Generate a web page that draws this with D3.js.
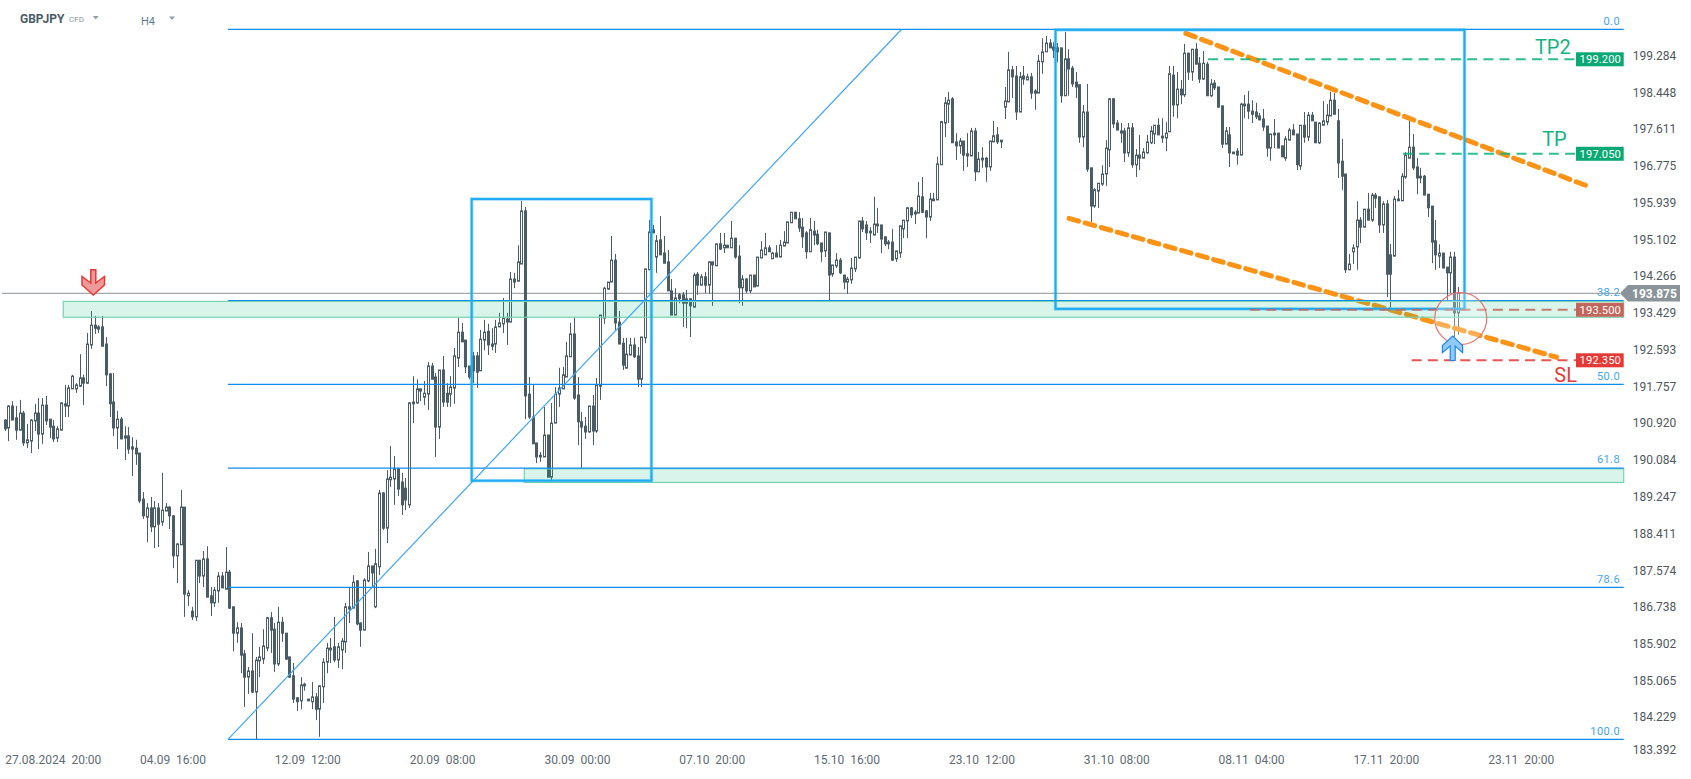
<!DOCTYPE html>
<html><head><meta charset="utf-8">
<script src="https://cdn.jsdelivr.net/npm/d3@7/dist/d3.min.js"></script>
<style>
html,body{margin:0;padding:0;background:#fff}
svg{display:block;font-family:Roboto,sans-serif}
text{white-space:pre}
</style></head><body><div id="chart"></div>
<script>
// Each row: [open, high, low, close] of one H4 candle
const candlesAugSep = [
[190.99,191.01,190.74,190.79],[190.81,191.33,190.51,191.31],[191.31,191.42,190.99,190.99],[191.04,191.31,190.54,190.76],[190.76,191.45,190.76,191.15],
[191.15,191.20,190.40,190.47],[190.47,190.90,190.35,190.54],[190.51,191.01,190.24,190.99],[190.97,191.36,190.74,191.15],[191.15,191.49,190.33,190.67],
[190.67,191.49,190.45,191.33],[191.33,191.54,190.88,190.97],[191.01,191.01,190.58,190.83],[190.85,190.99,190.49,190.56],[190.58,190.85,190.49,190.79],
[190.76,191.40,190.76,191.38],[191.31,191.79,191.06,191.36],[191.31,191.79,191.06,191.72],[191.70,192.02,191.70,191.99],[191.70,191.83,191.61,191.79],
[191.76,192.49,191.74,191.95],[191.95,192.02,191.33,191.83],[191.83,192.97,191.81,192.72],[192.70,193.47,192.61,193.15],[193.15,193.36,192.95,193.08],
[193.06,193.15,192.97,193.11],[193.11,193.36,192.67,192.67],[192.72,192.88,191.76,192.02],[192.04,192.06,191.06,191.36],[191.40,192.06,190.63,190.81],
[190.81,191.20,190.33,191.01],[191.01,191.06,190.56,190.56],[190.58,190.85,190.08,190.63],[190.63,190.83,190.22,190.33],[190.38,190.60,189.72,190.33],
[190.35,190.54,189.97,190.22],[190.24,190.24,189.10,189.15],[189.19,189.35,188.74,188.81],[188.78,189.10,188.21,188.99],[188.99,189.24,188.44,188.56],
[188.56,189.15,188.08,188.99],[188.99,189.10,188.10,188.62],[188.67,189.79,188.58,188.94],[188.92,189.10,188.92,189.01],[189.01,189.03,188.51,188.81],
[188.81,188.83,187.62,187.90],[187.90,188.19,187.28,188.17],[188.15,189.40,188.15,189.01],[189.01,189.01,186.51,187.03],[186.99,187.12,186.76,187.05],
[186.64,186.74,186.44,186.51],[186.51,187.80,186.42,187.80],[187.80,187.80,187.28,187.44],[187.44,188.01,187.19,187.83],[187.83,188.12,186.96,186.96],
[186.99,187.19,186.53,186.83],[186.83,187.19,186.74,187.12],[187.10,187.53,186.83,187.44],[187.44,187.53,187.17,187.17],[187.14,188.10,187.14,187.53],
[187.53,187.58,186.69,186.71],[186.74,186.74,185.73,186.14],[186.14,186.39,185.92,186.26],[186.26,186.37,185.23,185.64],[185.67,185.76,184.46,185.14],
[185.14,185.37,184.76,185.28],[185.28,186.14,184.78,184.80],[184.80,185.60,183.73,185.53],[185.51,185.83,185.14,185.60],[185.55,186.23,185.44,185.85],
[185.80,186.51,185.73,186.49],[186.49,186.62,185.69,186.21],[186.23,186.37,185.26,185.44],[185.44,186.74,185.39,186.39],[186.39,186.51,185.94,186.14],
[186.14,186.14,185.53,185.55],[185.60,185.60,185.12,185.14],[185.17,185.46,184.55,184.64],[184.67,184.67,184.37,184.58],[184.60,185.14,184.41,184.96],
[184.94,185.01,184.83,184.98],[184.64,184.64,184.60,184.60],[184.58,185.03,184.41,184.69],[184.69,184.78,184.16,184.41],[184.41,184.96,183.78,184.94],
[184.92,185.57,184.55,185.48],[185.48,185.92,185.23,185.80],[185.80,186.03,185.46,185.76],[185.83,186.51,185.48,185.53],[185.53,185.92,185.35,185.83],
[185.76,186.03,185.32,185.96],[185.94,186.83,185.69,186.74],[186.74,187.19,186.37,186.69],[186.71,187.46,186.71,187.30],[187.33,187.35,186.32,186.35],
[186.37,186.39,185.83,186.21],[186.21,187.39,186.21,187.35],[187.33,187.99,187.30,187.67],[187.67,187.67,187.19,187.51],[186.74,188.06,186.71,187.72]
];
const candlesSepOct = [
[187.65,189.40,187.46,189.33],[189.33,189.35,188.49,188.53],[188.53,189.85,188.19,189.65],[189.63,190.40,189.47,189.69],[189.65,190.17,189.06,189.88],
[189.88,189.90,189.26,189.42],[189.58,189.79,188.83,189.06],[189.44,189.67,188.94,189.17],[189.06,191.40,188.99,191.38],[191.36,191.99,190.92,191.40],
[191.38,191.92,191.36,191.70],[191.70,191.70,191.42,191.65],[191.51,191.88,191.33,191.60],[191.58,192.31,191.22,192.22],[192.22,192.29,191.92,191.92],
[191.97,192.06,190.15,190.83],[190.83,192.13,190.56,192.13],[192.13,192.45,191.29,191.40],[191.60,191.83,191.29,191.40],[191.58,191.99,191.29,191.74],
[191.72,192.63,191.36,192.45],[192.40,193.31,192.20,192.99],[192.99,193.20,192.77,192.77],[192.81,192.81,192.06,192.20],[192.22,192.22,191.92,191.97],
[192.45,192.54,191.83,192.11],[192.45,192.54,191.72,192.08],[192.11,193.04,192.11,192.83],[192.81,193.27,192.58,192.99],[193.01,193.18,192.47,192.70],
[192.72,193.08,192.58,192.67],[192.72,193.27,192.52,193.11],[193.11,193.43,193.11,193.20],[193.18,193.77,192.97,193.31],[193.29,193.43,192.70,193.22],
[193.22,194.36,193.22,194.20],[194.20,194.34,193.99,194.13],[194.15,194.97,194.15,194.59],[194.54,195.98,194.54,195.75],[195.75,195.84,191.01,191.54],
[191.58,191.97,191.01,191.06],[191.06,191.79,190.45,190.45],[190.47,190.47,190.01,190.15],[190.19,190.26,190.04,190.15],[190.15,191.29,190.15,190.65],
[190.65,190.65,189.69,189.69],[189.69,191.38,189.58,190.92],[190.92,191.74,190.92,191.58],[191.58,192.18,191.29,191.72],[191.70,192.20,191.70,192.02],
[191.97,192.77,191.97,192.45],[192.43,193.20,192.43,192.95],[192.95,193.33,191.45,191.49],[191.56,191.97,190.42,190.95],[190.95,191.17,189.90,190.83],
[190.85,191.06,190.56,190.72],[190.72,191.31,190.70,191.31],[191.31,191.56,190.42,190.74],[190.74,191.95,190.70,191.79],[191.76,193.38,191.45,193.38],
[193.31,194.02,193.18,193.99],[193.97,194.13,193.95,194.13],[194.13,195.18,194.13,194.63],[194.63,194.77,193.04,193.20],[193.22,193.47,192.72,192.72],
[192.74,192.86,192.13,192.24],[192.17,192.86,192.17,192.49],[192.47,192.86,192.47,192.70],[192.70,192.86,192.40,192.43],[192.45,192.65,191.74,191.92],
[191.92,192.88,191.74,192.88],[192.86,194.43,192.74,194.43],[194.41,195.54,194.41,195.27],[195.32,195.43,195.25,195.25],[194.70,195.20,194.34,195.07],
[195.09,195.63,194.75,194.75],[194.79,195.18,194.56,194.56],[194.59,194.86,193.93,193.93],[193.93,194.20,193.38,193.38],[193.38,193.99,193.38,193.77],
[193.84,193.88,193.65,193.75],[193.84,193.90,193.11,193.65],[193.65,193.95,193.08,193.75],[193.75,193.75,192.88,193.59],[193.56,194.34,193.56,194.29],
[194.31,194.36,193.84,194.06],[194.06,194.31,194.06,194.25],[194.25,194.36,193.88,194.06],[194.06,194.59,193.86,194.59],[194.59,194.59,193.59,194.52],
[194.50,195.00,194.50,195.00],[195.00,195.25,194.86,194.88],[194.91,195.25,194.79,194.97],[194.97,194.97,194.91,194.91],[194.91,195.52,194.91,195.13],
[195.13,195.13,194.66,194.70],[194.72,194.97,193.65,194.00],[194.00,194.29,193.59,194.20],[194.20,194.22,193.88,193.93],[193.93,194.29,193.88,194.29]
];
const candlesOctNov = [
[194.29,194.29,194.02,194.02],[194.04,194.70,194.04,194.70],[194.68,195.06,194.68,194.86],[194.75,195.25,194.75,194.91],[194.91,194.97,194.82,194.82],
[194.66,194.82,194.66,194.79],[194.79,194.97,194.70,194.70],[194.70,195.09,194.70,194.97],[194.95,195.29,194.95,195.04],[195.02,195.50,195.02,195.50],
[195.48,195.72,195.48,195.72],[195.72,195.72,195.57,195.57],[195.57,195.72,195.27,195.36],[195.38,195.59,194.91,195.16],[195.25,195.29,194.66,194.82],
[194.82,195.59,194.82,195.32],[195.29,195.52,194.97,195.20],[195.22,195.32,194.97,195.00],[195.02,195.02,194.59,194.82],[194.84,195.27,194.70,195.27],
[195.25,195.25,193.72,194.29],[194.31,194.52,194.25,194.52],[194.50,194.79,194.45,194.63],[194.63,194.68,194.31,194.34],[194.29,194.29,193.97,194.13],
[194.13,194.25,193.86,194.20],[194.18,194.68,194.09,194.45],[194.43,194.70,194.36,194.70],[194.68,195.52,194.66,195.52],[195.52,195.61,195.27,195.34],
[195.43,195.52,195.09,195.25],[195.29,195.38,195.02,195.25],[195.20,196.07,195.20,195.45],[195.45,195.82,195.25,195.41],[195.43,195.43,194.79,195.11],
[195.16,195.16,194.95,195.00],[195.04,195.09,194.88,195.00],[195.04,195.34,194.61,194.63],[194.66,194.84,194.59,194.84],[194.79,195.41,194.68,195.41],
[195.34,195.54,195.13,195.54],[195.52,195.84,195.13,195.82],[195.82,195.84,195.59,195.66],[195.68,195.77,195.45,195.72],[195.70,196.41,195.70,196.09],
[196.07,196.52,195.70,195.72],[195.75,195.77,195.13,195.61],[195.61,196.16,195.52,196.02],[196.02,196.16,195.98,195.98],[196.00,196.98,196.00,196.82],
[196.80,197.80,196.80,197.78],[197.75,198.34,197.43,198.21],[198.18,198.46,197.75,198.27],[198.30,198.34,197.30,197.30],[197.32,197.52,196.91,197.23],
[197.23,197.41,197.05,197.34],[197.34,197.34,196.66,197.02],[197.05,197.52,196.75,197.00],[197.00,197.64,197.00,197.57],[197.57,197.64,196.43,196.64],
[196.64,197.09,196.64,196.93],[196.95,197.20,196.73,196.91],[196.95,196.98,196.41,196.75],[196.75,197.34,196.66,197.34],[197.32,197.80,197.32,197.46],
[197.48,197.66,197.27,197.32],[197.36,197.36,197.18,197.32],[198.11,198.57,197.84,198.25],[198.23,199.37,198.23,198.96],[198.96,199.05,198.32,198.80],
[198.82,199.05,197.82,198.00],[198.00,198.91,198.00,198.80],[198.82,199.05,198.62,198.75],[198.73,198.87,198.73,198.80],[198.80,198.89,198.30,198.43],
[198.43,198.52,198.05,198.48],[198.43,199.30,198.43,199.16],[199.14,199.68,198.87,199.37],[199.37,199.73,199.37,199.57],[199.57,199.66,199.46,199.46],
[199.48,199.59,199.23,199.41],[199.46,199.57,199.14,199.37],[199.46,199.46,198.21,198.37],[198.37,199.82,198.37,199.21],[199.21,199.43,198.37,198.98],
[199.00,199.05,198.57,198.64],[198.68,198.91,198.32,198.57],[198.62,198.62,197.30,197.43],[197.43,198.16,197.20,198.00],[198.00,198.64,196.64,196.70],
[196.73,196.73,195.50,195.86],[195.86,196.27,195.82,196.23],[196.20,196.38,195.82,196.38],[196.36,196.79,196.32,196.59],[196.59,197.36,196.32,197.18],
[197.14,198.32,196.75,198.30],[198.30,198.32,197.64,197.73],[197.75,197.82,197.59,197.59],[197.52,197.75,197.30,197.57],[197.57,197.64,196.86,197.07]
];
const candlesNov = [
[197.07,197.75,196.98,197.64],[197.64,197.75,196.73,196.80],[196.80,197.16,196.52,197.02],[197.02,197.48,196.68,196.95],[196.95,197.18,196.95,197.09],
[197.07,197.48,197.05,197.32],[197.30,197.68,197.27,197.57],[197.50,197.70,197.27,197.70],[197.70,197.86,197.48,197.48],[197.45,197.86,197.30,197.41],
[197.41,197.77,197.11,197.52],[197.55,199.05,197.55,198.87],[198.84,199.05,197.89,198.16],[198.16,198.91,197.86,198.52],[198.52,198.73,198.18,198.39],
[198.39,199.55,198.34,199.34],[199.34,199.34,198.73,198.91],[198.91,199.43,198.71,199.43],[199.43,199.57,199.09,199.09],[199.11,199.25,198.66,198.75],
[198.75,199.39,198.73,199.11],[199.09,199.14,198.37,198.37],[198.37,198.75,198.34,198.64],[198.66,198.73,198.50,198.55],[198.57,198.57,198.11,198.11],
[198.14,198.14,197.18,197.27],[197.27,197.66,197.27,197.57],[197.48,197.66,196.75,197.07],[197.09,197.09,197.05,197.05],[197.11,197.18,196.80,197.02],
[197.02,198.21,197.02,198.18],[198.14,198.39,197.86,198.18],[198.18,198.48,197.84,198.02],[198.02,198.27,197.75,197.95],[198.00,198.21,197.84,197.89],
[197.91,197.98,197.82,197.82],[197.84,198.07,197.57,197.66],[197.68,197.68,196.98,197.18],[197.18,197.50,196.89,197.50],[197.48,197.84,197.18,197.52],
[197.52,197.52,197.18,197.18],[197.23,197.23,196.98,196.98],[196.95,197.45,196.89,197.39],[197.36,197.64,197.36,197.59],[197.59,197.73,197.48,197.48],
[197.50,197.50,196.68,196.80],[196.77,197.70,196.68,197.70],[197.70,198.00,197.30,197.43],[197.43,198.00,197.34,197.93],[197.93,198.00,197.80,197.80],
[197.77,197.77,197.30,197.30],[197.30,197.77,197.27,197.75],[197.70,198.25,197.70,197.80],[197.77,198.18,197.70,197.93],[197.91,198.46,197.91,198.27],
[198.27,198.43,197.95,197.95],[197.80,198.07,196.50,196.84],[196.88,197.39,196.23,196.54],[196.59,196.59,194.34,194.41],[194.41,194.77,194.41,194.54],
[194.82,194.99,194.54,194.91],[194.93,195.97,194.41,195.54],[195.54,195.61,195.02,195.38],[195.38,195.79,195.38,195.79],[195.79,196.16,195.54,195.54],
[195.54,196.16,195.50,196.11],[196.11,196.16,195.82,196.04],[196.07,196.07,195.25,195.43],[195.43,195.97,195.25,195.91],[195.91,196.00,193.79,194.31],
[194.75,195.00,193.56,194.31],[194.72,196.09,194.72,196.02],[196.02,196.23,195.98,195.98],[195.98,196.61,195.98,196.54],[196.52,197.09,196.48,197.02],
[196.95,197.80,196.95,197.20],[197.20,197.50,196.68,196.73],[196.75,196.95,196.13,196.50],[196.50,196.73,196.38,196.54],[196.54,196.57,196.11,196.11],
[196.13,196.13,195.61,195.82],[195.86,195.86,194.56,195.04],[195.07,195.54,194.41,194.75],[194.72,194.99,194.45,194.79],[194.79,194.79,194.45,194.45],
[194.47,194.47,193.72,194.34],[194.34,194.82,193.88,194.70],[194.70,194.82,192.88,193.43],[193.43,194.02,192.93,193.875]
];
const priceTicks = [199.284,198.448,197.611,196.775,195.939,195.102,194.266,193.429,192.593,191.757,190.920,190.084,189.247,188.411,187.574,186.738,185.902,185.065,184.229,183.392];
const timeTickIndex = [0,36,72,108,144,180,216,252,288,324,360,396];
const timeTickLabels = ["27.08.2024  20:00","04.09  16:00","12.09  12:00","20.09  08:00","30.09  00:00","07.10  20:00","15.10  16:00","23.10  12:00","31.10  08:00","08.11  04:00","17.11  20:00","23.11  20:00"];
const fibLevels = [0,38.2,50,61.8,78.6,100];
const fibLabels = ["0.0","38.2","50.0","61.8","78.6","100.0"];
const fibHigh = 199.883, fibLow = 183.725, lastPrice = 193.875;
const orders = [
  {price:199.2, label:"199.200", tag:"TP2", from:321.3},
  {price:197.05,label:"197.050", tag:"TP",  from:373.4},
  {price:193.5, label:"193.500", tag:"",    from:332.5},
  {price:192.35,label:"192.350", tag:"SL",  from:375.7}
];
const zones = [[15.65,193.69,193.33],[138.75,189.88,189.57]];
const boxes = [[124.7,172.7,196.02,189.61],[280.6,389.8,199.87,193.52]];
const channel = [[284.2,195.58,414.4,192.42],[315.4,199.79,422.2,196.33]];
const fibRay = [59.63,239.5];

const candles = [...candlesAugSep,...candlesSepOct,...candlesOctNov,...candlesNov];
const W=1691,H=779;
const x = d3.scaleLinear().domain([0,396]).range([4.67,1487.7]);
const y = d3.scaleLinear().domain([199.2,192.35]).range([59.3,360.3]);
const svg = d3.select("#chart").append("svg").attr("width",W).attr("height",H);
const INK="#4a5d67", FIB="#0f8cf0", BOX="#29b6f6", ORANGE="#fb9316", GREEN="#09b57c", RED="#e53935";
const fibPrice = l => fibHigh-(fibHigh-fibLow)*l/100;

// header
const head = svg.append("g");
head.append("text").attr("x",20).attr("y",23).attr("font-size",12).attr("font-weight",700).attr("fill",INK).text("GBPJPY");
head.append("text").attr("x",69).attr("y",22).attr("font-size",8).attr("fill","#8a9499").text("CFD");
head.append("text").attr("x",141).attr("y",24.5).attr("font-size",11).attr("fill","#607d8b").text("H4");
[[92.7,16],[169,16.5]].forEach(([a,b])=>head.append("path").attr("d",d3.line()([[a,b],[a+6,b],[a+3,b+3.5]])+"Z").attr("fill","#90a0a8"));

// last price line
svg.append("line").attr("x1",2).attr("x2",1620).attr("y1",y(lastPrice)).attr("y2",y(lastPrice)).attr("stroke","#8a9296").attr("stroke-width",1);

// candles
const px = d=>Math.round(x(d))+.5;
const g = svg.append("g").attr("class","candles");
const cs = g.selectAll("g").data(candles).join("g");
cs.append("line").attr("x1",(d,i)=>px(i)).attr("x2",(d,i)=>px(i))
  .attr("y1",d=>y(d[1])).attr("y2",d=>y(d[2])).attr("stroke",INK).attr("stroke-width",1);
cs.append("rect").attr("x",(d,i)=>px(i)-1).attr("width",2)
  .attr("y",d=>y(Math.max(d[0],d[3]))).attr("height",d=>Math.max(1,Math.abs(y(d[0])-y(d[3]))))
  .attr("fill",d=>d[3]>=d[0]?"#fff":INK).attr("stroke",INK).attr("stroke-width",1);

// channel
svg.append("g").selectAll("line").data(channel).join("line")
  .attr("x1",d=>x(d[0])).attr("y1",d=>y(d[1])).attr("x2",d=>x(d[2])).attr("y2",d=>y(d[3]))
  .attr("stroke",ORANGE).attr("stroke-width",5).attr("stroke-linecap","round").attr("stroke-dasharray","10 6.7");

// zones
svg.append("g").selectAll("rect").data(zones).join("rect")
  .attr("x",d=>x(d[0])).attr("width",d=>1623.7-x(d[0])).attr("y",d=>y(d[1])).attr("height",d=>y(d[2])-y(d[1]))
  .attr("fill","rgba(2,182,116,.15)").attr("stroke","#76d1ad").attr("stroke-width",1.2);

// fib
svg.append("g").selectAll("line").data(fibLevels).join("line")
  .attr("x1",x(fibRay[0])).attr("x2",1623.7).attr("y1",l=>y(fibPrice(l))).attr("y2",l=>y(fibPrice(l)))
  .attr("stroke",FIB).attr("stroke-width",1.2);
svg.append("line").attr("x1",x(fibRay[0])).attr("y1",y(fibLow)).attr("x2",x(fibRay[1])).attr("y2",y(fibHigh))
  .attr("stroke","#42a5f5").attr("stroke-width",1.2);
svg.append("g").selectAll("text").data(fibLevels).join("text")
  .attr("x",1620).attr("y",l=>y(fibPrice(l))-4.6).attr("text-anchor","end").attr("font-size",11).attr("letter-spacing",.4)
  .attr("fill","#42a5f5").text((l,i)=>fibLabels[i]);

// boxes: soft halo under a solid core
const boxG = svg.append("g");
[[3.6,.4,BOX],[2,1,"#1fabf2"]].forEach(([w,o,c])=>{
  boxG.append("g").selectAll("rect").data(boxes).join("rect")
    .attr("x",d=>x(d[0])).attr("width",d=>x(d[1])-x(d[0])).attr("y",d=>y(d[2])).attr("height",d=>y(d[3])-y(d[2]))
    .attr("fill","none").attr("stroke",c).attr("stroke-width",w).attr("opacity",o);
});

// order lines
const colors = [GREEN,GREEN,"#c4675c",RED];
const ol = svg.append("g");
ol.selectAll("line").data(orders).join("line")
  .attr("x1",d=>x(d.from)).attr("x2",1576).attr("y1",d=>y(d.price)).attr("y2",d=>y(d.price))
  .attr("stroke",(d,i)=>colors[i]).attr("stroke-width",2).attr("stroke-dasharray","10 6.2").attr("opacity",.85);
ol.selectAll("rect").data(orders).join("rect")
  .attr("x",1576).attr("width",47.7).attr("y",d=>y(d.price)-7).attr("height",14)
  .attr("fill",(d,i)=>["#0aa874","#0aa874","#c2665c",RED][i]);
ol.selectAll("text.v").data(orders).join("text").attr("class","v")
  .attr("x",1600.3).attr("y",d=>y(d.price)+4).attr("text-anchor","middle").attr("font-size",11.2).attr("fill","#fff").attr("letter-spacing",.1).text(d=>d.label);
const tagPos = {TP2:[1570.7,-5.3],TP:[1566.7,-7.3],SL:[1577,21.3]};
ol.selectAll("text.t").data(orders.filter(d=>d.tag)).join("text").attr("class","t")
  .attr("x",d=>tagPos[d.tag][0]).attr("y",d=>y(d.price)+tagPos[d.tag][1]).attr("text-anchor","end")
  .attr("font-size",20).attr("fill",d=>d.tag=="SL"?RED:"#14b47f").text(d=>d.tag);

// circle + arrows
svg.append("circle").attr("cx",x(388.8)).attr("cy",y(193.3)).attr("r",26)
  .attr("fill","rgba(255,255,255,.25)").attr("stroke","#e57373").attr("stroke-width",1.2);
const arrowDown = [[90.8,269.8],[95.8,269.8],[95.8,283],[104.5,276.5],[104.5,285],[93.3,295],[82,285],[82,276.5],[90.8,283]];
svg.append("path").attr("d",d3.line()(arrowDown)+"Z").attr("fill","#ef9a9a").attr("stroke",RED).attr("stroke-width",1.5);
const arrowUp = [[1450.2,360.5],[1455.2,360.5],[1455.2,346],[1462.6,352.6],[1462.6,345.5],[1452.7,336],[1442.4,345.5],[1442.4,352.6],[1450.2,346]];
svg.append("path").attr("d",d3.line()(arrowUp)+"Z").attr("fill","#90caf9").attr("stroke","#1e88e5").attr("stroke-width",1.2);

// last price tag
const ty=y(lastPrice);
svg.append("path").attr("d",d3.line()([[1620,ty],[1628,ty-8.2],[1680,ty-8.2],[1680,ty+8.2],[1628,ty+8.2]])+"Z").attr("fill","#8a9499");
svg.append("text").attr("x",1632).attr("y",ty+4.5).attr("font-size",12).attr("font-weight",700).attr("fill","#fff").text(lastPrice.toFixed(3));

// axes
const ya = svg.append("g").attr("transform","translate(1632.7,0)")
  .call(d3.axisRight(y).tickValues(priceTicks).tickFormat(d3.format(".3f")).tickSize(0).tickPadding(0));
ya.select(".domain").remove();
ya.selectAll("text").attr("font-family","Roboto").attr("font-size",12).attr("fill","#50575c");
ya.selectAll(".tick").filter(d=>d===183.392).attr("transform","translate(0,749.7)");
const xa = svg.append("g").attr("transform","translate(0,755)")
  .call(d3.axisBottom(x).tickValues(timeTickIndex).tickFormat((d,i)=>timeTickLabels[i]).tickSize(0).tickPadding(0));
xa.select(".domain").remove();
xa.selectAll("text").attr("font-family","Roboto").attr("font-size",12).attr("fill","#5f6b72").attr("text-anchor","start");
</script></body></html>
